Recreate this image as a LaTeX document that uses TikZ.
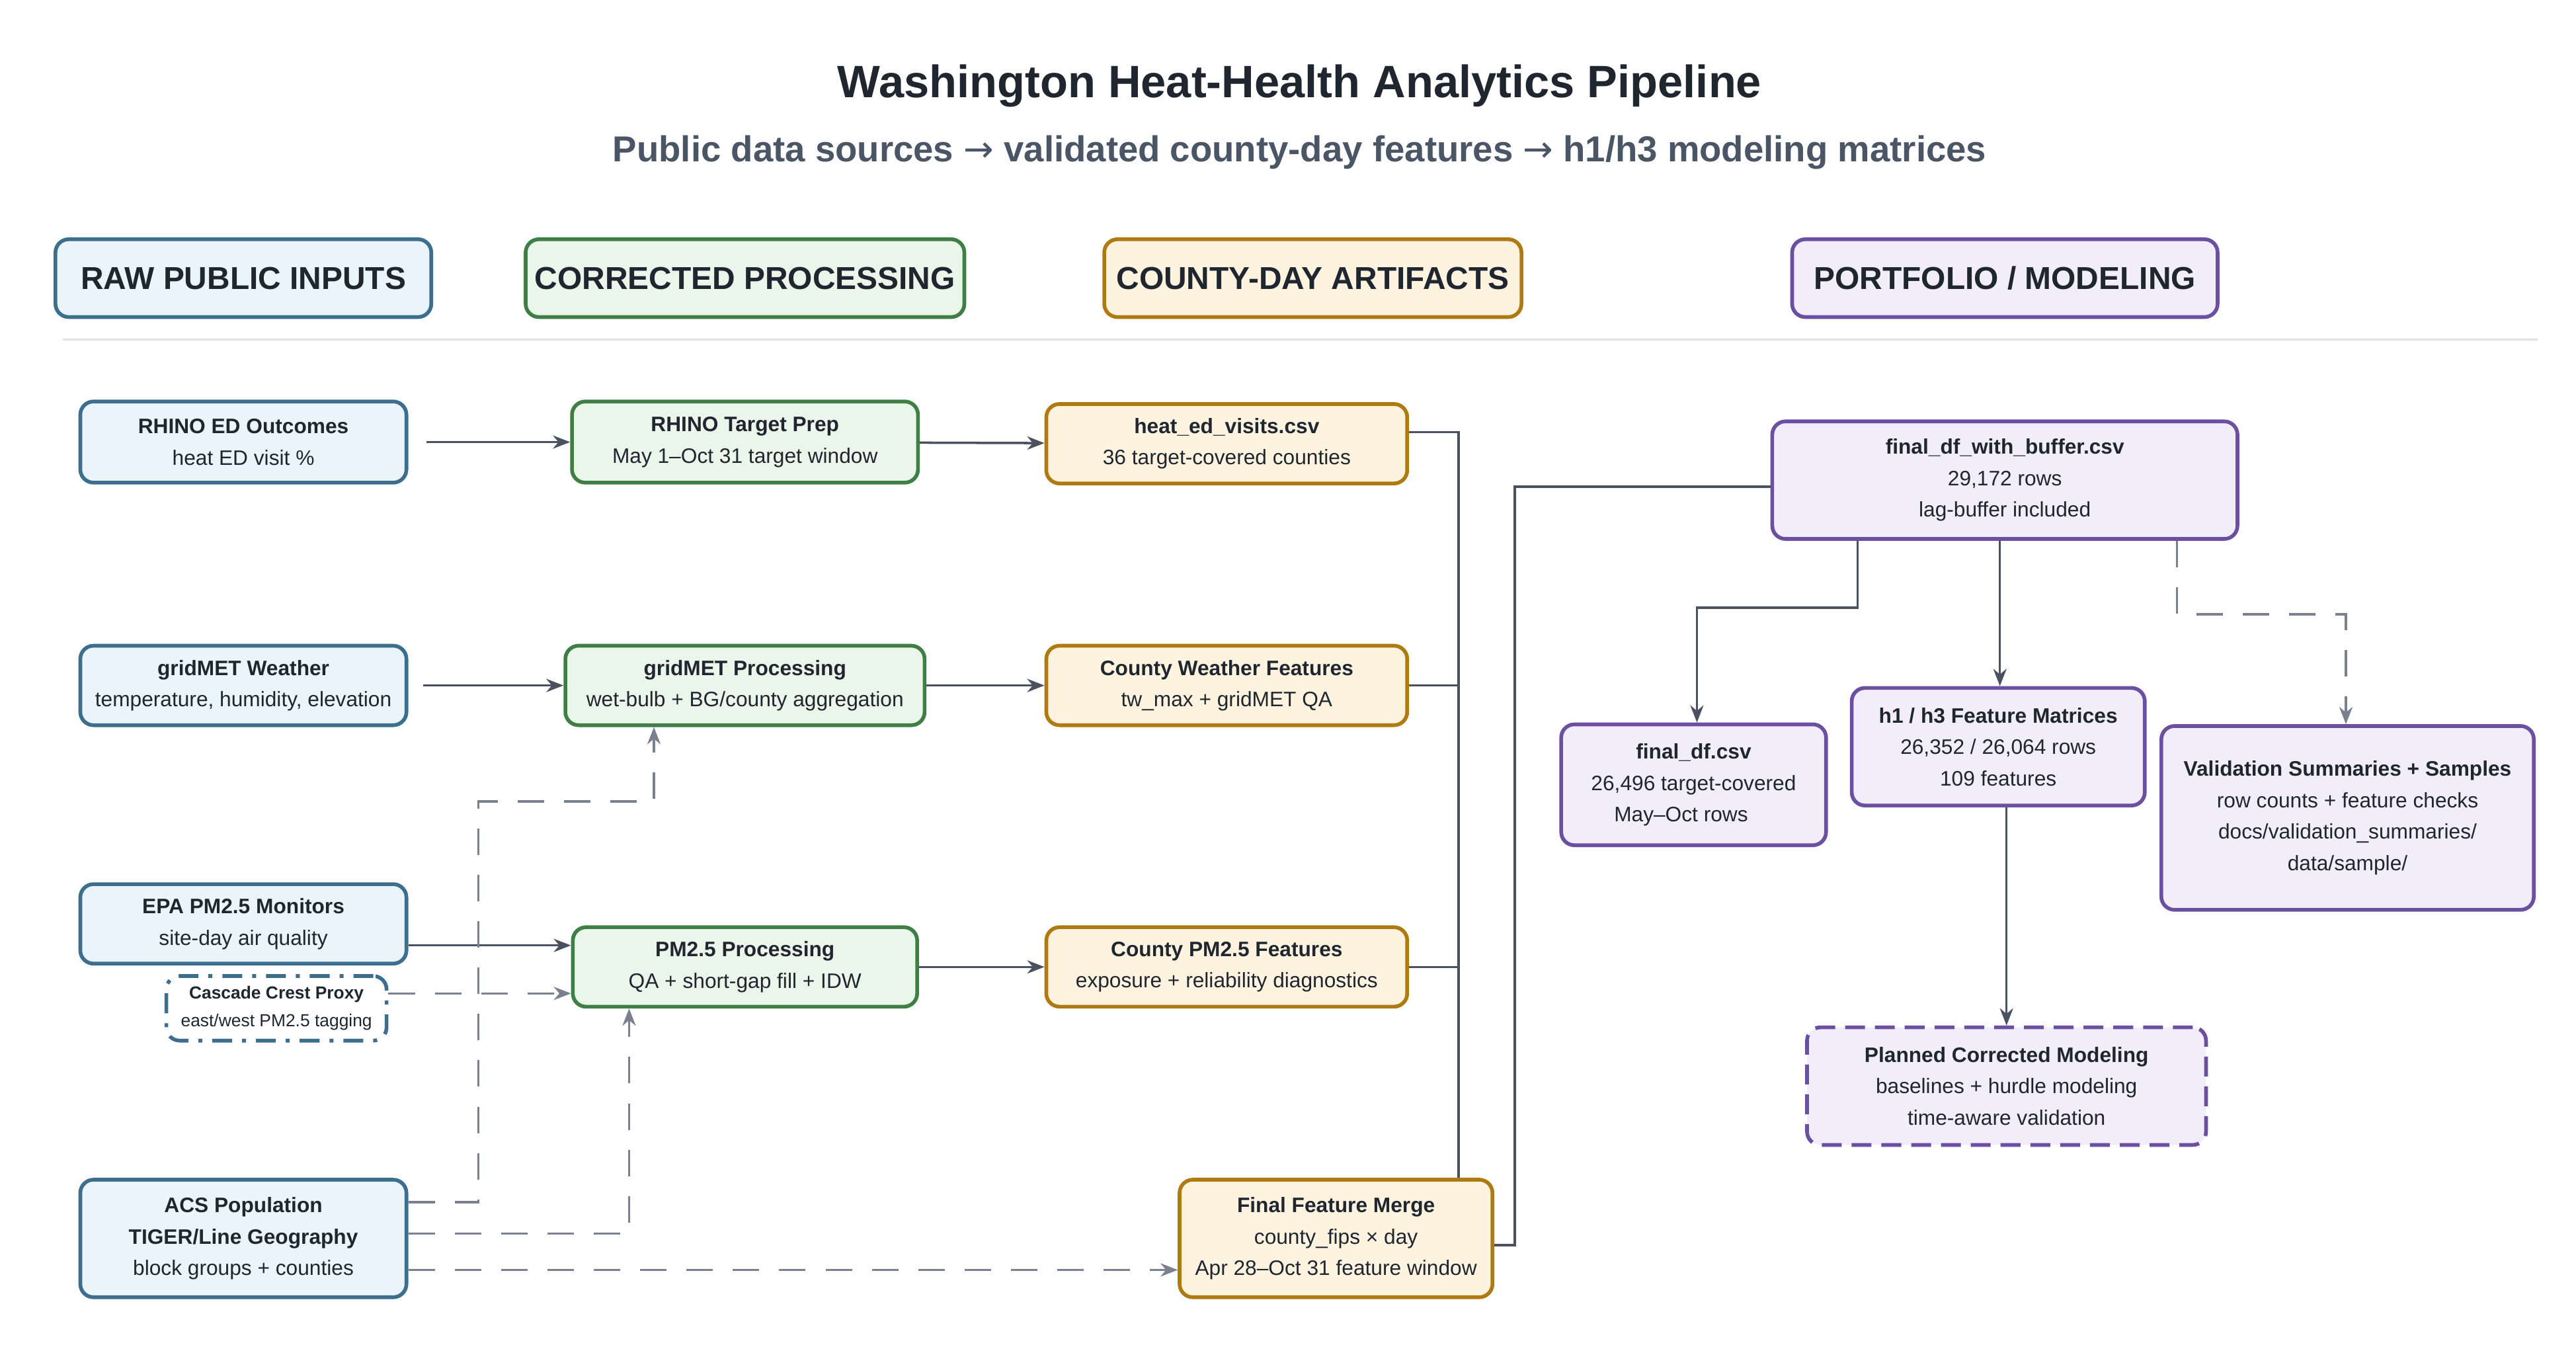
\documentclass[tikz,border=0pt]{standalone}
\usepackage{fontspec}
\setmainfont{Liberation Sans}
\newfontfamily\arrowfont{DejaVu Sans}
\usetikzlibrary{arrows.meta, positioning}
\definecolor{ink}{HTML}{1F2630}
\definecolor{subink}{HTML}{4A5566}
\definecolor{wire}{HTML}{4A5260}
\definecolor{dashwire}{HTML}{7A8090}
\definecolor{rawline}{HTML}{3E6E8E}
\definecolor{rawfill}{HTML}{EAF4FB}
\definecolor{procline}{HTML}{3F7F45}
\definecolor{procfill}{HTML}{EAF6EA}
\definecolor{artline}{HTML}{B07A12}
\definecolor{artfill}{HTML}{FEF3DF}
\definecolor{portline}{HTML}{6B4FA0}
\definecolor{portfill}{HTML}{F1EDFB}
\newcommand{\flowarrow}{{\arrowfont\mdseries →}}

\begin{document}
\begin{tikzpicture}[
    x=0.25mm, y=-0.25mm,
    font=\fontsize{9}{13.5}\selectfont, text=ink,
    box/.style = {rectangle, rounded corners=2mm, line width=1.6pt, align=center, inner sep=0pt},
    raw/.style = {box, draw=rawline, fill=rawfill},
    proc/.style = {box, draw=procline, fill=procfill},
    art/.style = {box, draw=artline, fill=artfill},
    port/.style = {box, draw=portline, fill=portfill},
    head/.style = {box, font=\fontsize{13.6}{16}\selectfont\bfseries, minimum height=47*0.25mm},
    pil/.style = {wire, line width=1pt, -{Stealth[length=2.6mm, width=2mm]}},
    lin/.style = {wire, line width=1pt},
    dpil/.style = {dashwire, line width=1pt, dash pattern=on 4mm off 3mm, -{Stealth[length=2.6mm, width=2mm]}},
    dlin/.style = {dashwire, line width=1pt, dash pattern=on 4mm off 3mm}
    ]
  \useasboundingbox[fill=white] (0,0) rectangle (1556,812);

  % title
  \node (title) at (785,52) {\fontsize{19.5}{23}\selectfont\bfseries Washington Heat-Health Analytics Pipeline};
  \node[text=subink] (subtitle) at (785,92) {\fontsize{15.5}{18}\selectfont\bfseries Public data sources \flowarrow{} validated county-day features \flowarrow{} h1/h3 modeling matrices};

  % column heads
  \node[head, draw=rawline, fill=rawfill, minimum width=227*0.25mm] (hraw) at (147,168) {RAW PUBLIC INPUTS};
  \node[head, draw=procline, fill=procfill, minimum width=265*0.25mm] (hproc) at (450,168) {CORRECTED PROCESSING};
  \node[head, draw=artline, fill=artfill, minimum width=252*0.25mm] (hart) at (793,168) {COUNTY-DAY ARTIFACTS};
  \node[head, draw=portline, fill=portfill, minimum width=257*0.25mm] (hport) at (1211,168) {PORTFOLIO / MODELING};
  \draw[black!12, line width=0.8pt] (38,205) coordinate (sepL) -- (1533,205) coordinate (sepR);

  % raw inputs
  \node[raw, minimum width=197*0.25mm, minimum height=49*0.25mm] (rhino) at (147,267) {\textbf{RHINO ED Outcomes}\\heat ED visit \%};
  \node[raw, minimum width=197*0.25mm, minimum height=48*0.25mm] (gridw) at (147,414) {\textbf{gridMET Weather}\\temperature, humidity, elevation};
  \node[raw, minimum width=197*0.25mm, minimum height=48*0.25mm] (epa) at (147,558) {\textbf{EPA PM2.5 Monitors}\\site-day air quality};
  \node[raw, fill=white, dash pattern=on 3mm off 1.5mm on 0.6mm off 1.5mm, minimum width=133*0.25mm, minimum height=39*0.25mm, font=\fontsize{7.5}{12}\selectfont] (cascade) at (167,609) {\textbf{Cascade Crest Proxy}\\east/west PM2.5 tagging};
  \node[raw, minimum width=197*0.25mm, minimum height=71*0.25mm] (acs) at (147,748) {\textbf{ACS Population}\\\textbf{TIGER/Line Geography}\\block groups + counties};

  % processing
  \node[proc, minimum width=209*0.25mm, minimum height=49*0.25mm] (prep) at (450,267) {\textbf{RHINO Target Prep}\\May 1–Oct 31 target window};
  \node[proc, minimum width=217*0.25mm, minimum height=48*0.25mm] (gridp) at (450,414) {\textbf{gridMET Processing}\\wet-bulb + BG/county aggregation};
  \node[proc, minimum width=208*0.25mm, minimum height=48*0.25mm] (pmp) at (450,584) {\textbf{PM2.5 Processing}\\QA + short-gap fill + IDW};

  % artifacts
  \node[art, minimum width=218*0.25mm, minimum height=48*0.25mm] (heat) at (741,268) {\textbf{heat\_ed\_visits.csv}\\36 target-covered counties};
  \node[art, minimum width=218*0.25mm, minimum height=48*0.25mm] (cwf) at (741,414) {\textbf{County Weather Features}\\tw\_max + gridMET QA};
  \node[art, minimum width=218*0.25mm, minimum height=48*0.25mm] (cpf) at (741,584) {\textbf{County PM2.5 Features}\\exposure + reliability diagnostics};
  \node[art, minimum width=189*0.25mm, minimum height=71*0.25mm] (merge) at (807,748) {\textbf{Final Feature Merge}\\county\_fips × day\\Apr 28–Oct 31 feature window};

  % portfolio
  \node[port, minimum width=281*0.25mm, minimum height=71*0.25mm] (buffer) at (1211,290) {\textbf{final\_df\_with\_buffer.csv}\\29,172 rows\\lag-buffer included};
  \node[port, minimum width=160*0.25mm, minimum height=73*0.25mm] (fdf) at (1023,474) {\textbf{final\_df.csv}\\26,496 target-covered\\May–Oct rows\hspace*{1.2em}};
  \node[port, minimum width=177*0.25mm, minimum height=71*0.25mm] (mats) at (1207,451) {\textbf{h1 / h3 Feature Matrices}\\26,352 / 26,064 rows\\109 features};
  \node[port, minimum width=225*0.25mm, minimum height=111*0.25mm] (valid) at (1418,494) {\textbf{Validation Summaries + Samples}\\row counts + feature checks\\docs/validation\_summaries/\\data/sample/};
  \node[port, dash pattern=on 3mm off 1.5mm, minimum width=241*0.25mm, minimum height=71*0.25mm] (planned) at (1212,656) {\textbf{Planned Corrected Modeling}\\baselines + hurdle modeling\\time-aware validation};

  % main flow
  \draw[pil, shorten <=11*0.25mm] (rhino) -- (prep);
  \draw[pil, shorten <=9*0.25mm] (gridw) -- (gridp);
  \draw[pil] (epa.east |- 0,571) -- (pmp.west |- 0,571);
  \draw[pil] (prep) -- (heat);
  \draw[pil] (gridp) -- (cwf);
  \draw[pil] (pmp) -- (cpf);

  % into merge
  \draw[lin] (heat.east |- 0,261) -| (merge.north -| 881,0);
  \draw[lin] (cwf.east) -- (881,414);
  \draw[lin] (cpf.east) -- (881,584);
  \draw[lin] (merge.east |- 0,752) -| (915,294) -- (buffer.west |- 0,294);

  % buffer outputs
  \draw[pil] (buffer.south -| 1122,0) |- (1025,367) -- (fdf.north -| 1025,0);
  \draw[pil] (buffer.south -| 1208,0) -- (mats.north -| 1208,0);
  \draw[dpil] (buffer.south -| 1315,0) |- (1417,371) -- (valid.north -| 1417,0);
  \draw[pil] (mats.south -| 1212,0) -- (planned.north -| 1212,0);

  % auxiliary inputs
  \draw[dpil] (cascade.east |- 0,600) -- (pmp.west |- 0,600);
  \draw[dpil] (acs.east |- 0,726) -| (289,484) -| (gridp.south -| 395,0);
  \draw[dpil] (acs.east |- 0,745) -| (pmp.south -| 380,0);
  \draw[dpil] (acs.east |- 0,767) -- (merge.west |- 0,767);

\end{tikzpicture}
\end{document}
